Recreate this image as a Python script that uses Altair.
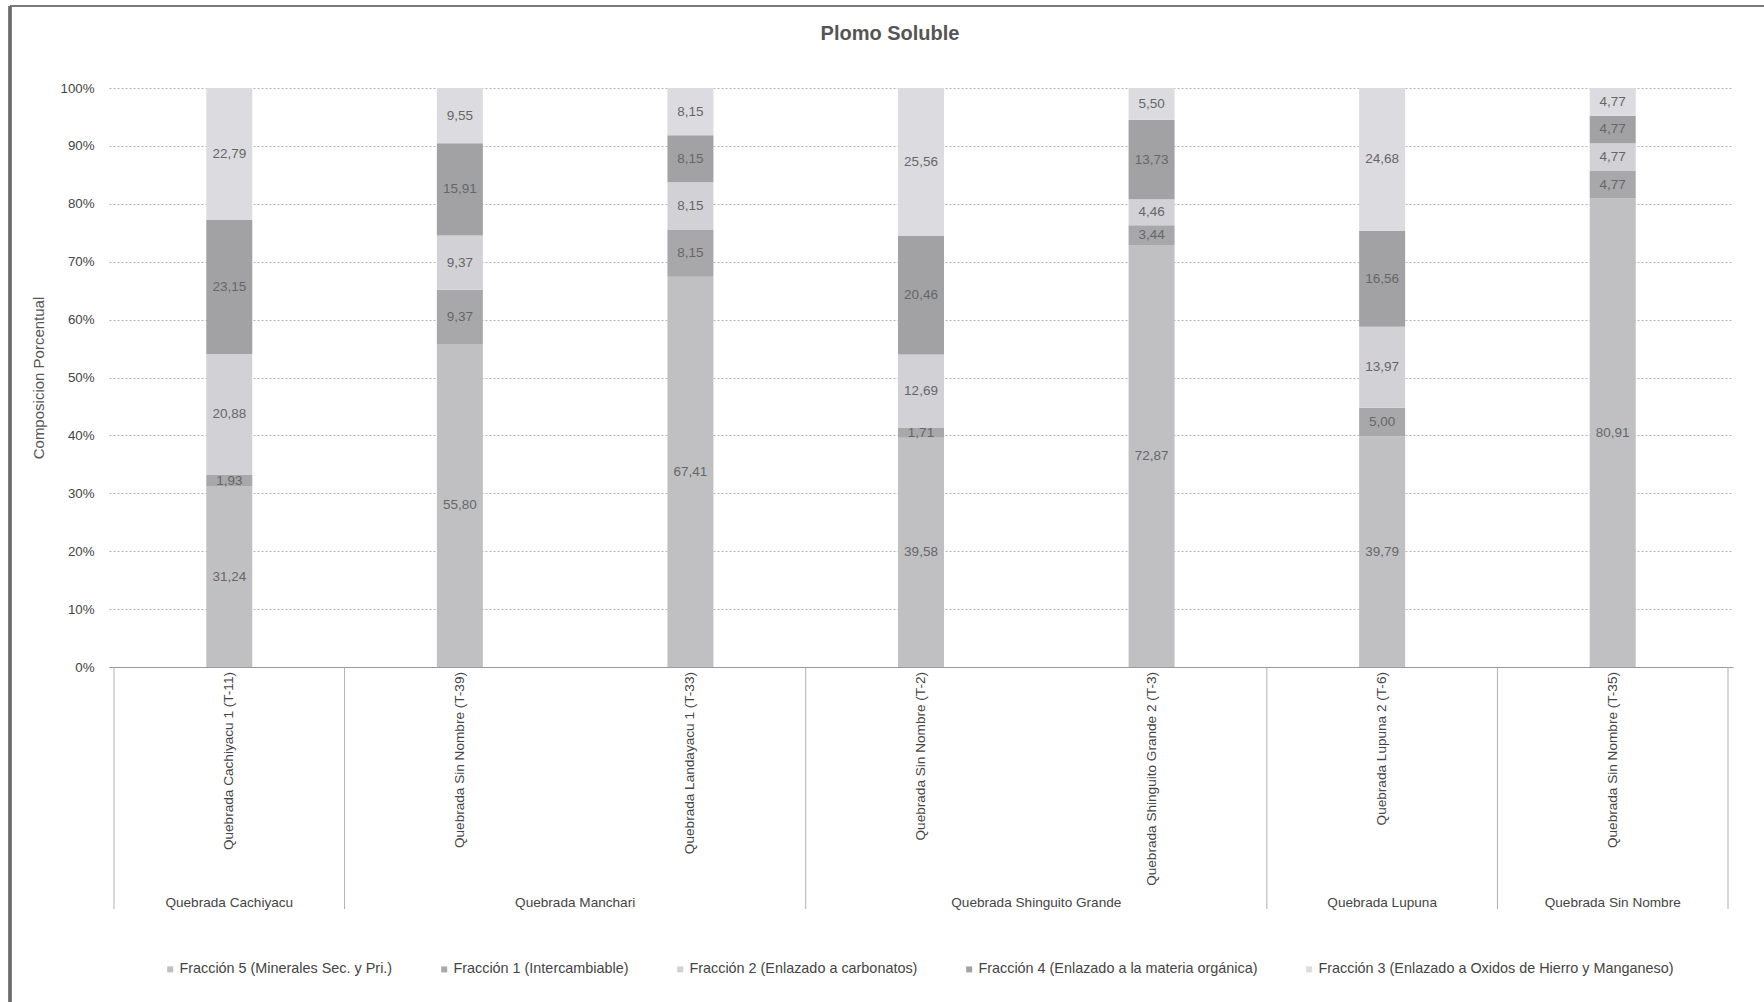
import altair as alt
import pandas as pd

samples = ["Quebrada Cachiyacu 1 (T-11)", "Quebrada Sin Nombre (T-39)", "Quebrada Landayacu 1 (T-33)",
           "Quebrada Sin Nombre (T-2)", "Quebrada Shinguito Grande 2 (T-3)", "Quebrada Lupuna 2 (T-6)",
           "Quebrada Sin Nombre (T-35)"]
sample_groups = ["Quebrada Cachiyacu", "Quebrada Manchari", "Quebrada Manchari",
                 "Quebrada Shinguito Grande", "Quebrada Shinguito Grande", "Quebrada Lupuna",
                 "Quebrada Sin Nombre"]
fractions = ["Fracción 5 (Minerales Sec. y Pri.)", "Fracción 1 (Intercambiable)",
             "Fracción 2 (Enlazado a carbonatos)", "Fracción 4 (Enlazado a la materia orgánica)",
             "Fracción 3 (Enlazado a Oxidos de Hierro y Manganeso)"]
frac5 = [31.24, 55.80, 67.41, 39.58, 72.87, 39.79, 80.91]
frac1 = [1.93, 9.37, 8.15, 1.71, 3.44, 5.00, 4.77]
frac2 = [20.88, 9.37, 8.15, 12.69, 4.46, 13.97, 4.77]
frac4 = [23.15, 15.91, 8.15, 20.46, 13.73, 16.56, 4.77]
frac3 = [22.79, 9.55, 8.15, 25.56, 5.50, 24.68, 4.77]
y_ticks = [0, 10, 20, 30, 40, 50, 60, 70, 80, 90, 100]
colors = ["#c0c0c3", "#a8a8ab", "#d2d2d6", "#a2a2a5", "#dcdce0"]

series = [frac5, frac1, frac2, frac4, frac3]
rows = []
for k, (fr, vals) in enumerate(zip(fractions, series)):
    for i, (s, v) in enumerate(zip(samples, vals)):
        rows.append({"sample": s, "idx": i, "fraction": fr, "order": k, "value": v,
                     "label": f"{v:.2f}".replace(".", ",")})
df = pd.DataFrame(rows)

sdf = pd.DataFrame({"sample": samples, "idx": list(range(len(samples))), "group": sample_groups})
gnames = []
for g in sample_groups:
    if g not in gnames:
        gnames.append(g)
gdf = pd.DataFrame({"group": gnames,
                    "center": [sdf[sdf.group == g].idx.mean() for g in gnames]})
bounds = [sdf[sdf.group == g].idx.min() - 0.5 for g in gnames] + [len(samples) - 0.5]
bdf = pd.DataFrame({"b": bounds})

W, H = 1624, 579
FONT = "Liberation Sans"

xscale = alt.Scale(domain=[-0.5, len(samples) - 0.5], nice=False, zero=False)
yscale = alt.Scale(domain=[0, 100], nice=False)

base = alt.Chart(df).transform_stack(
    stack="value", groupby=["sample"], as_=["y0", "y1"],
    sort=[alt.SortField("order", order="ascending")]
)

bars = base.mark_bar(size=46).encode(
    x=alt.X("idx:Q", scale=xscale,
            axis=alt.Axis(labels=False, ticks=False, grid=False, title=None,
                          domainColor="#9a9a9a", domainWidth=1)),
    y=alt.Y("y0:Q", scale=yscale,
            axis=alt.Axis(values=y_ticks, labelExpr="datum.value + '%'", grid=True,
                          gridDash=[2, 2], gridColor="#b5b5b5", ticks=False, domain=False,
                          title="Composicion Porcentual", labelPadding=15, titlePadding=13,
                          labelFontSize=13.3, labelColor="#444", titleFontSize=15,
                          titleFontWeight="normal", titleColor="#555")),
    y2="y1:Q",
    color=alt.Color("fraction:N", scale=alt.Scale(domain=fractions, range=colors),
                    legend=alt.Legend(orient="none", legendX=54, legendY=874,
                                      direction="horizontal", columns=5, title=None,
                                      symbolType="square", symbolSize=36,
                                      symbolStrokeWidth=0, labelFontSize=14.4,
                                      labelColor="#444", columnPadding=44, labelOffset=2,
                                      labelLimit=600)),
)

labels = base.transform_calculate(mid="(datum.y0 + datum.y1) / 2").mark_text(
    fontSize=13.5, color="#666", font=FONT
).encode(x=alt.X("idx:Q", scale=xscale), y=alt.Y("mid:Q", scale=yscale), text="label:N")

sample_text = alt.Chart(sdf).mark_text(
    angle=270, align="right", baseline="middle", fontSize=13.6, color="#444", font=FONT
).encode(x=alt.X("idx:Q", scale=xscale), y=alt.value(H + 5), text="sample:N")

group_text = alt.Chart(gdf).mark_text(
    baseline="alphabetic", fontSize=13.6, color="#444", font=FONT
).encode(x=alt.X("center:Q", scale=xscale), y=alt.value(H + 240), text="group:N")

seps = alt.Chart(bdf).mark_rule(color="#b0b0b0", strokeWidth=1).encode(
    x=alt.X("b:Q", scale=xscale), y=alt.value(H), y2=alt.value(H + 242)
)

frame_top = alt.Chart(bdf).mark_rule(color="#7a7a7a", strokeWidth=2).encode(
    x=alt.value(-99), x2=alt.value(W + 31), y=alt.value(-82)
)
frame_left = alt.Chart(bdf).mark_rule(color="#6a6a6a", strokeWidth=2.5).encode(
    x=alt.value(-99), y=alt.value(-82), y2=alt.value(H + 335)
)

chart = alt.layer(bars, labels, sample_text, group_text, seps, frame_top, frame_left).properties(
    width=W, height=H,
    title=alt.Title("Plomo Soluble", fontSize=20, fontWeight="bold", color="#555",
                    font=FONT, offset=-55, dx=-31, frame="group", baseline="alphabetic"),
    autosize=alt.AutoSizeParams(type="none"),
    padding={"left": 109, "top": 88, "right": 31, "bottom": 335},
).configure(font=FONT).configure_view(stroke=None)

chart.save("out.html", embed_options={"renderer": "svg", "actions": False})
